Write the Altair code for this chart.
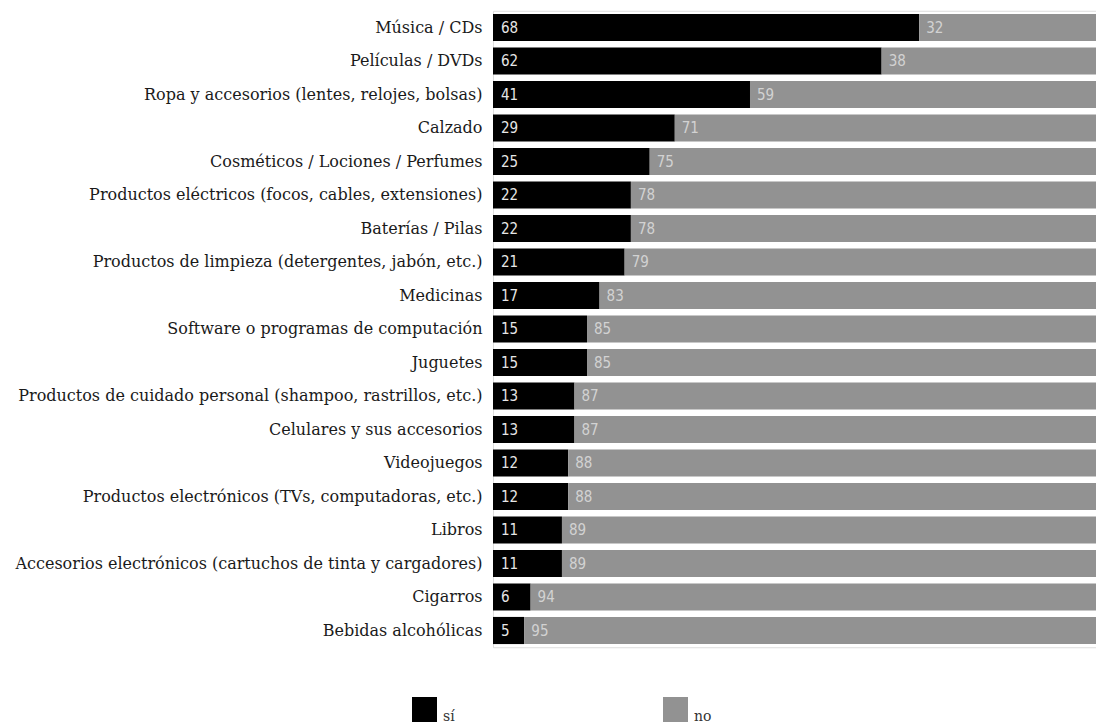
import altair as alt
import pandas as pd

categories = [
    "Música / CDs",
    "Películas / DVDs",
    "Ropa y accesorios (lentes, relojes, bolsas)",
    "Calzado",
    "Cosméticos / Lociones / Perfumes",
    "Productos eléctricos (focos, cables, extensiones)",
    "Baterías / Pilas",
    "Productos de limpieza (detergentes, jabón, etc.)",
    "Medicinas",
    "Software o programas de computación",
    "Juguetes",
    "Productos de cuidado personal (shampoo, rastrillos, etc.)",
    "Celulares y sus accesorios",
    "Videojuegos",
    "Productos electrónicos (TVs, computadoras, etc.)",
    "Libros",
    "Accesorios electrónicos (cartuchos de tinta y cargadores)",
    "Cigarros",
    "Bebidas alcohólicas",
]
si_values = [68, 62, 41, 29, 25, 22, 22, 21, 17, 15, 15, 13, 13, 12, 12, 11, 11, 6, 5]
no_values = [32, 38, 59, 71, 75, 78, 78, 79, 83, 85, 85, 87, 87, 88, 88, 89, 89, 94, 95]
responses = ["sí", "no"]

rows = []
for c, s, n in zip(categories, si_values, no_values):
    rows.append({"cat": c, "resp": "sí", "value": s, "start": 0, "end": s})
    rows.append({"cat": c, "resp": "no", "value": n, "start": s, "end": s + n})
df = pd.DataFrame(rows)

STEP = 33.5
H = STEP * len(categories)
W = 603
XMAX = 96.2

y_enc = alt.Y(
    "cat:N",
    sort=categories,
    title=None,
    scale=alt.Scale(paddingInner=0.19, paddingOuter=0.095),
    axis=alt.Axis(
        domain=False,
        ticks=False,
        grid=False,
        labelFont="DejaVu Serif",
        labelFontSize=16,
        labelColor="#1a1a1a",
        labelPadding=11,
        labelLimit=0,
    ),
)
x_scale = alt.Scale(domain=[0, XMAX], nice=False, zero=True, clamp=True)

bars = alt.Chart(df).mark_bar().encode(
    y=y_enc,
    x=alt.X("start:Q", scale=x_scale, axis=None),
    x2="end:Q",
    color=alt.Color(
        "resp:N",
        scale=alt.Scale(domain=responses, range=["#000000", "#929292"]),
        legend=alt.Legend(
            title=None,
            orient="none",
            legendX=-81,
            legendY=686,
            direction="horizontal",
            symbolType="square",
            symbolSize=625,
            symbolStrokeWidth=0,
            labelFont="DejaVu Serif",
            labelFontSize=14,
            labelColor="#333333",
            labelBaseline="top",
            labelOffset=6,
            columnPadding=208,
            padding=0,
        ),
    ),
)

text_font = "DejaVu Sans Condensed, Liberation Sans Narrow, sans-serif"

txt_si = alt.Chart(df).transform_filter(alt.datum.resp == "sí").mark_text(
    align="left", baseline="middle", dx=8, font=text_font, fontSize=15, color="#e6e6e6"
).encode(
    y=alt.Y("cat:N", sort=categories),
    x=alt.X("start:Q", scale=x_scale, axis=None),
    text="value:Q",
)

txt_no = alt.Chart(df).transform_filter(alt.datum.resp == "no").mark_text(
    align="left", baseline="middle", dx=7, font=text_font, fontSize=15, color="#d2d2d2"
).encode(
    y=alt.Y("cat:N", sort=categories),
    x=alt.X("start:Q", scale=x_scale, axis=None),
    text="value:Q",
)

chart = (
    alt.layer(bars, txt_si, txt_no)
    .properties(
        width=W,
        height=H,
        autosize=alt.AutoSizeParams(type="none"),
        padding={"left": 485, "top": 2.75, "right": 0, "bottom": 716 - 2.75 - H},
    )
    .configure_view(stroke="transparent", strokeWidth=0)
    .configure_axis(grid=False)
    .configure(background="white")
)

chart.save("out.html", embed_options={"renderer": "svg", "actions": False})
